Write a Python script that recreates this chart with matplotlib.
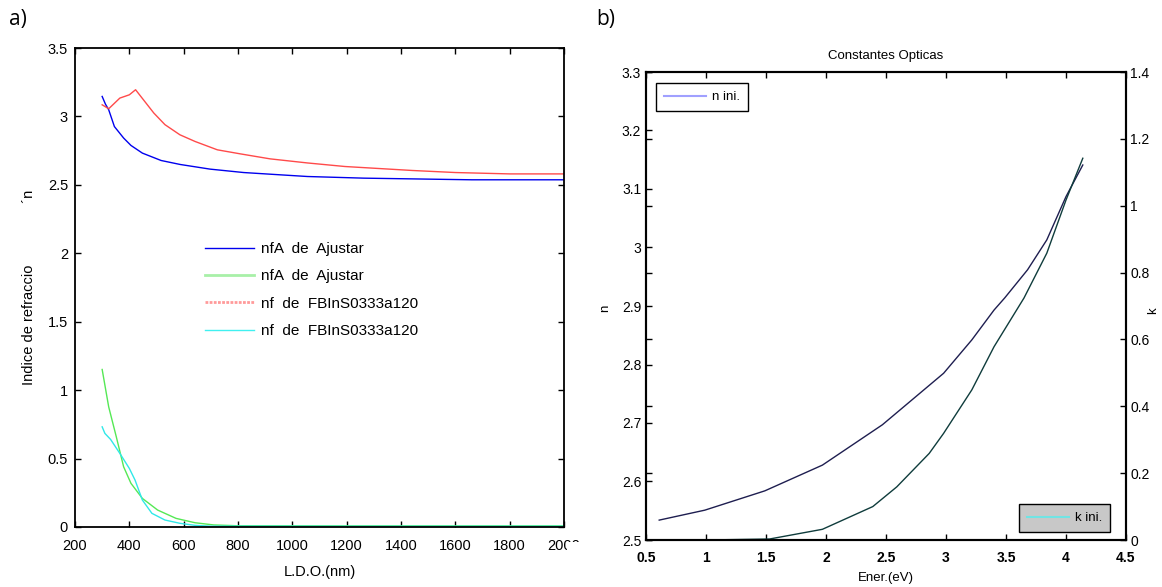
import matplotlib
matplotlib.use("Agg")
import matplotlib.pyplot as plt
from matplotlib.lines import Line2D
from matplotlib.patches import Rectangle

plt.rcParams['font.family'] = ['Liberation Sans', 'DejaVu Sans']

# ---- panel a: refractive index vs wavelength ----
lam_blue = [300, 312, 324, 345, 379, 406, 448, 517, 587, 697, 821, 958, 1056, 1263, 1661, 2000]
n_blue = [3.146, 3.09, 3.049, 2.926, 2.842, 2.788, 2.732, 2.678, 2.649, 2.615, 2.590, 2.573, 2.561, 2.549, 2.537, 2.537]

lam_red = [300, 324, 365, 400, 423, 490, 531, 586, 642, 724, 807, 918, 1056, 1194, 1442, 1601, 1801, 2000]
n_red = [3.085, 3.056, 3.134, 3.158, 3.195, 3.025, 2.94, 2.866, 2.817, 2.756, 2.727, 2.69, 2.66, 2.634, 2.605, 2.59, 2.58, 2.58]

lam_green = [300, 324, 352, 379, 406, 448, 504, 572, 642, 711, 800, 1200, 2000]
k_green = [1.151, 0.878, 0.659, 0.44, 0.319, 0.209, 0.124, 0.063, 0.031, 0.015, 0.009, 0.008, 0.008]

lam_cyan = [300, 310, 331, 365, 400, 421, 448, 483, 531, 586, 642, 700, 1200, 2000]
k_cyan = [0.732, 0.684, 0.64, 0.538, 0.428, 0.343, 0.197, 0.1, 0.051, 0.027, 0.012, 0.006, 0.005, 0.005]

labels_a = ["nfA  de  Ajustar", "nfA  de  Ajustar", "nf  de  FBInS0333a120", "nf  de  FBInS0333a120"]

# ---- panel b: optical constants vs energy ----
E_n = [0.61, 0.99, 1.49, 1.97, 2.47, 2.98, 3.215, 3.40, 3.49, 3.68, 3.84, 4.0, 4.14]
n_ini = [2.534, 2.551, 2.584, 2.628, 2.697, 2.785, 2.842, 2.893, 2.914, 2.962, 3.013, 3.087, 3.141]

E_k = [0.61, 1.0, 1.53, 1.97, 2.39, 2.59, 2.86, 2.98, 3.215, 3.40, 3.65, 3.84, 4.0, 4.14]
k_ini = [0.0, 0.0, 0.003, 0.032, 0.10, 0.159, 0.259, 0.319, 0.449, 0.578, 0.724, 0.858, 1.017, 1.142]

W, H = 1162, 587
fig = plt.figure(figsize=(W / 100, H / 100), dpi=100)


def box(l, t, r, b):
    return [l / W, 1 - b / H, (r - l) / W, (b - t) / H]


# panel a
ax = fig.add_axes(box(75, 48, 564, 527))
ax.plot(lam_blue, n_blue, color='#0000ee', lw=1)
ax.plot(lam_green, k_green, color='#55e855', lw=1)
ax.plot(lam_red, n_red, color='#ff4a4a', lw=1)
ax.plot(lam_cyan, k_cyan, color='#30e8e8', lw=1)
ax.set_xlim(200, 2000)
ax.set_ylim(0, 3.5)
ax.set_xticks(range(200, 2001, 200))
ax.set_yticks([0, 0.5, 1, 1.5, 2, 2.5, 3, 3.5])
ax.set_yticklabels(['0', '0.5', '1', '1.5', '2', '2.5', '3', '3.5'])
ax.tick_params(direction='in', length=4, top=True, right=True, labelsize=10.5, width=1)
ax.tick_params(axis='x', pad=9)
ax.tick_params(axis='y', pad=5)
for s in ax.spines.values():
    s.set_linewidth(1.3)
handles_a = [Line2D([], [], color='#0000ee', lw=1),
             Line2D([], [], color='#a8f0a8', lw=2),
             Line2D([], [], color='#ff9a9a', lw=2, ls=(0, (1, 0.5))),
             Line2D([], [], color='#40f0f0', lw=1)]
ax.legend(handles_a, labels_a, loc='upper left', bbox_to_anchor=(0.254, 0.608),
          frameon=False, fontsize=11, handlelength=3.2, labelspacing=0.88,
          handletextpad=0.45, borderaxespad=0)
ax.set_xlabel('L.D.O.(nm)', fontsize=10.5, labelpad=8)
fig.text(29 / W, 1 - 287 / H, 'Indice de refraccio               \u00b4n', ha='center', va='center',
         rotation=90, fontsize=10.5)
fig.text(9 / W, 1 - 19 / H, 'a)', ha='left', va='center', fontsize=15, family='Open Sans')
fig.add_artist(Rectangle((567 / W, 0), 28 / W, 45 / H, transform=fig.transFigure,
                         facecolor='white', edgecolor='none', zorder=10))

# panel b
bx = fig.add_axes(box(646, 72, 1126, 540))
bx.plot(E_n, n_ini, color='#1e1e50', lw=1)
bx.set_xlim(0.5, 4.5)
bx.set_ylim(2.5, 3.3)
bx.set_xticks([0.5, 1, 1.5, 2, 2.5, 3, 3.5, 4, 4.5])
bx.set_xticklabels(['0.5', '1', '1.5', '2', '2.5', '3', '3.5', '4', '4.5'], fontweight='bold')
bx.set_yticks([2.5, 2.6, 2.7, 2.8, 2.9, 3.0, 3.1, 3.2, 3.3])
bx.set_yticklabels(['2.5', '2.6', '2.7', '2.8', '2.9', '3', '3.1', '3.2', '3.3'])
bx.tick_params(direction='in', length=4, top=True, right=True, labelsize=10, width=1)
bx.tick_params(axis='x', pad=8)
bx2 = bx.twinx()
bx2.plot(E_k, k_ini, color='#0f3c3c', lw=1)
bx2.plot([E_k[0], 1.5], [0, 0], color='black', lw=2)
bx2.set_ylim(0, 1.4)
bx2.set_yticks([0, 0.2, 0.4, 0.6, 0.8, 1.0, 1.2, 1.4])
bx2.set_yticklabels(['0', '0.2', '0.4', '0.6', '0.8', '1', '1.2', '1.4'])
bx2.tick_params(direction='in', length=4, left=True, labelsize=10, width=1, pad=3)
for a in (bx, bx2):
    for s in a.spines.values():
        s.set_linewidth(1.5)
leg1 = bx.legend([Line2D([], [], color='#a0a0ff', lw=1.5)], ['n ini.'], loc='upper left',
                 bbox_to_anchor=(0.021, 0.976), fontsize=9.5, fancybox=False, framealpha=1,
                 edgecolor='black', handlelength=3.2, handletextpad=0.45, borderpad=0.6,
                 borderaxespad=0)
leg1.get_frame().set_linewidth(1)
leg2 = bx2.legend([Line2D([], [], color='#70e4e4', lw=1.5)], ['k ini.'], loc='lower right',
                  bbox_to_anchor=(0.967, 0.017), fontsize=9.5, fancybox=False, framealpha=1,
                  facecolor='#c8c8c8', edgecolor='black', handlelength=3.2, handletextpad=0.45,
                  borderpad=0.6, borderaxespad=0)
leg2.get_frame().set_linewidth(1)
fig.text(886 / W, 1 - 56 / H, 'Constantes Opticas', ha='center', va='center', fontsize=9.5)
fig.text(886 / W, 1 - 578 / H, 'Ener.(eV)', ha='center', va='center', fontsize=9.5)
fig.text(605 / W, 1 - 308 / H, 'n', ha='center', va='center', rotation=90, fontsize=9.5)
fig.text(1153 / W, 1 - 311 / H, 'k', ha='center', va='center', rotation=90, fontsize=9.5)
fig.text(596 / W, 1 - 19 / H, 'b)', ha='left', va='center', fontsize=15, family='Open Sans')

fig.savefig('out.png', dpi=100)
